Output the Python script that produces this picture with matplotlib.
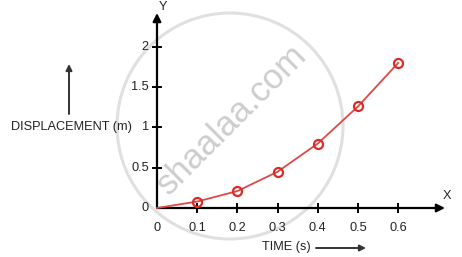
import matplotlib
matplotlib.use("Agg")
import matplotlib.pyplot as plt
from matplotlib.patches import Ellipse

times = [0.0, 0.1, 0.2, 0.3, 0.4, 0.5, 0.6]
displacement = [0.0, 0.08, 0.21, 0.45, 0.80, 1.26, 1.80]
x_ticks = [0.1, 0.2, 0.3, 0.4, 0.5, 0.6]
x_tick_labels = ["0.1", "0.2", "0.3", "0.4", "0.5", "0.6"]
y_ticks = [0.5, 1.0, 1.5, 2.0]
y_tick_labels = ["0.5", "1", "1.5", "2"]

plt.rcParams['font.family'] = ['Liberation Sans', 'DejaVu Sans']

W, H = 462, 257
fig = plt.figure(figsize=(W / 100, H / 100), dpi=100)
ax = fig.add_axes([0, 0, 1, 1])
ax.axis('off')

# pixel mapping: x_px = 157 + 402*x ; y_px(from top) = 208 - 80.6*y
sx, ox = 402.0, 157.0
sy, oy = 80.6, 208.0
ax.set_xlim(-ox / sx, (W - ox) / sx)
ax.set_ylim((oy - H) / sy, oy / sy)

def px_x(p):
    return (p - ox) / sx

def px_y(p):
    return (oy - p) / sy

FS = 9.2
TC = '#222222'

# watermark
ax.add_patch(Ellipse((px_x(230), px_y(126)), 226 / sx, 226 / sy, fill=False,
                     edgecolor='#e0e0e0', lw=2.2, zorder=0))
ax.text(px_x(232), px_y(120), "shaalaa.com", rotation=45, fontsize=25,
        color='#cdcdcd', ha='center', va='center', zorder=0)

# axes with arrows
ax.annotate('', xy=(px_x(445), 0), xytext=(0, 0),
            arrowprops=dict(arrowstyle='-|>', lw=1.6, color='black', mutation_scale=12,
                            shrinkA=0, shrinkB=0))
ax.annotate('', xy=(0, px_y(13)), xytext=(0, 0),
            arrowprops=dict(arrowstyle='-|>', lw=1.6, color='black', mutation_scale=12,
                            shrinkA=0, shrinkB=0))

# tick crosses
tx = 4 / sy
for xv, lab in zip(x_ticks, x_tick_labels):
    ax.plot([xv, xv], [-tx, tx], color='black', lw=1.4)
    ax.text(xv, px_y(228), lab, ha='center', va='center', fontsize=FS, color=TC)
ty = 4 / sx
for yv, lab in zip(y_ticks, y_tick_labels):
    ax.plot([-ty, ty], [yv, yv], color='black', lw=1.4)
    ax.text(px_x(149), yv, lab, ha='right', va='center', fontsize=FS, color=TC)
ax.text(px_x(149), 0, "0", ha='right', va='center', fontsize=FS, color=TC)
ax.text(0, px_y(228), "0", ha='center', va='center', fontsize=FS, color=TC)

ax.text(px_x(163), px_y(7), "Y", ha='center', va='center', fontsize=FS, color=TC)
ax.text(px_x(447), px_y(196), "X", ha='center', va='center', fontsize=FS, color=TC)

# labels
ax.text(px_x(11), px_y(127), "DISPLACEMENT (m)", ha='left', va='center', fontsize=FS,
        color=TC)
ax.annotate('', xy=(px_x(69), px_y(64)), xytext=(px_x(69), px_y(114)),
            arrowprops=dict(arrowstyle='-|>', lw=1.4, color='#333333', mutation_scale=9,
                            shrinkA=0, shrinkB=0))
ax.text(px_x(262), px_y(247), "TIME (s)", ha='left', va='center', fontsize=FS,
        color=TC)
ax.annotate('', xy=(px_x(366), px_y(248)), xytext=(px_x(316), px_y(248)),
            arrowprops=dict(arrowstyle='-|>', lw=1.4, color='#333333', mutation_scale=9,
                            shrinkA=0, shrinkB=0))

# data
ax.plot(times, displacement, color='#e04848', lw=1.3, zorder=3)
ax.plot(times[1:], displacement[1:], linestyle='none', marker='o', markersize=6.5,
        markerfacecolor='none', markeredgecolor='#dd2a2a', markeredgewidth=1.6, zorder=4)

fig.savefig("out.png", dpi=100)
